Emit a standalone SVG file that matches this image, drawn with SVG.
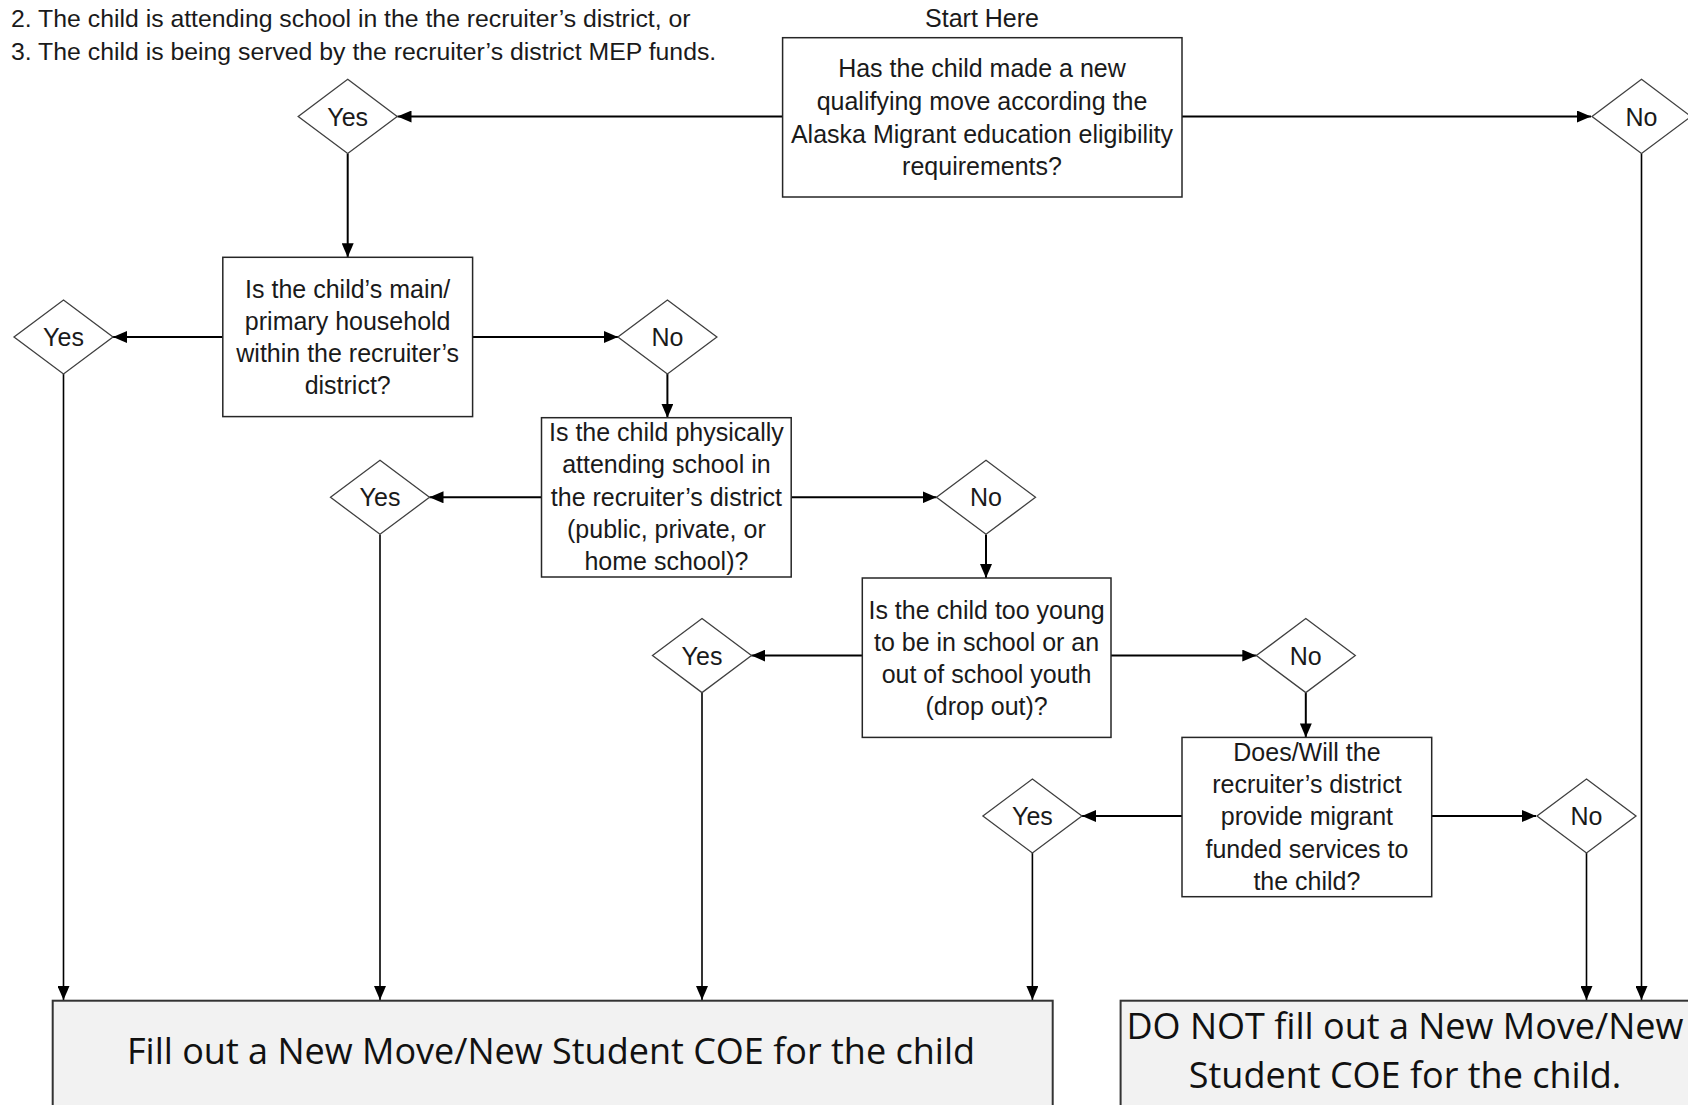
<svg xmlns="http://www.w3.org/2000/svg" width="1688" height="1105" viewBox="0 0 1688 1105">
<defs>
<marker id="arr" markerUnits="userSpaceOnUse" markerWidth="14" markerHeight="12" refX="14" refY="6" orient="auto">
<path d="M0,0 L14,6 L0,12 z" fill="#000"/>
</marker>
<style>
.t{font-family:"Liberation Sans",Arial,sans-serif;font-size:25px;fill:#1a1a1a;text-anchor:middle}
.tl{font-family:"Liberation Sans",Arial,sans-serif;font-size:24.8px;fill:#1a1a1a}
.box{fill:#fff;stroke:#262626;stroke-width:1.5}
.dia{fill:#fff;stroke:#404040;stroke-width:1.3}
.end{fill:#f2f2f2;stroke:#333;stroke-width:2}
.big{font-family:"Open Sans","DejaVu Sans",sans-serif;font-size:36px;fill:#111;text-anchor:middle}
.c{stroke:#000;stroke-width:2;fill:none;marker-end:url(#arr)}
.cv{stroke:#000;stroke-width:1.6;fill:none;marker-end:url(#arr)}
</style>
</defs>
<rect width="1688" height="1105" fill="#fff"/>

<g id="notes">
<text class="tl" x="11" y="27">2. The child is attending school in the the recruiter’s district, or</text>
<text class="tl" x="11" y="60">3. The child is being served by the recruiter’s district MEP funds.</text>
<text class="t" x="982" y="27">Start Here</text>
</g>

<g id="connectors">
<line class="c" x1="783" y1="116.5" x2="397.5" y2="116.5"/>
<line class="c" x1="1182" y1="116.5" x2="1591" y2="116.5"/>
<line class="c" x1="347.7" y1="153.5" x2="347.7" y2="257.3"/>
<line class="c" x1="222.8" y1="337" x2="113" y2="337"/>
<line class="c" x1="472.6" y1="337" x2="618" y2="337"/>
<line class="c" x1="667.4" y1="374" x2="667.4" y2="417.7"/>
<line class="c" x1="541.5" y1="497.3" x2="429.5" y2="497.3"/>
<line class="c" x1="791.2" y1="497.3" x2="936.5" y2="497.3"/>
<line class="c" x1="986" y1="534.5" x2="986" y2="578"/>
<line class="c" x1="862.3" y1="655.6" x2="751.4" y2="655.6"/>
<line class="c" x1="1111" y1="655.6" x2="1256.3" y2="655.6"/>
<line class="c" x1="1305.8" y1="692.6" x2="1305.8" y2="737.4"/>
<line class="c" x1="1182" y1="816" x2="1082" y2="816"/>
<line class="c" x1="1431.7" y1="816" x2="1536" y2="816"/>
<line class="cv" x1="63.5" y1="374" x2="63.5" y2="1000"/>
<line class="cv" x1="380" y1="534.5" x2="380" y2="1000"/>
<line class="cv" x1="702" y1="692.6" x2="702" y2="1000"/>
<line class="cv" x1="1032.4" y1="853" x2="1032.4" y2="1000"/>
<line class="cv" x1="1586.5" y1="853" x2="1586.5" y2="1000"/>
<line class="cv" x1="1641.5" y1="153.5" x2="1641.5" y2="1000"/>
</g>

<g id="q1">
<rect class="box" x="782.6" y="37.7" width="399.4" height="159.3"/>
<text class="t" x="982" y="77">Has the child made a new</text>
<text class="t" x="982" y="110">qualifying move according the</text>
<text class="t" x="982" y="142.5">Alaska Migrant education eligibility</text>
<text class="t" x="982" y="175">requirements?</text>
</g>
<g id="yes1">
<polygon class="dia" points="347.7,79.3 397.2,116.5 347.7,153.5 298.2,116.5"/>
<text class="t" x="347.7" y="125.5">Yes</text>
</g>
<g id="no1">
<polygon class="dia" points="1641.5,79.3 1691,116.5 1641.5,153.5 1592,116.5"/>
<text class="t" x="1641.5" y="125.5">No</text>
</g>

<g id="q2">
<rect class="box" x="222.8" y="257.3" width="249.8" height="159.3"/>
<text class="t" x="347.7" y="297.5">Is the child’s main/</text>
<text class="t" x="347.7" y="329.5">primary household</text>
<text class="t" x="347.7" y="361.5">within the recruiter’s</text>
<text class="t" x="347.7" y="393.5">district?</text>
</g>
<g id="yes2">
<polygon class="dia" points="63.5,300 113,337 63.5,374 14,337"/>
<text class="t" x="63.5" y="346">Yes</text>
</g>
<g id="no2">
<polygon class="dia" points="667.4,300 716.9,337 667.4,374 617.9,337"/>
<text class="t" x="667.4" y="346">No</text>
</g>

<g id="q3">
<rect class="box" x="541.5" y="417.7" width="249.7" height="159.3"/>
<text class="t" x="666.4" y="440.5">Is the child physically</text>
<text class="t" x="666.4" y="473">attending school in</text>
<text class="t" x="666.4" y="505.5">the recruiter’s district</text>
<text class="t" x="666.4" y="538">(public, private, or</text>
<text class="t" x="666.4" y="570">home school)?</text>
</g>
<g id="yes3">
<polygon class="dia" points="380,460.3 429.5,497.3 380,534.3 330.5,497.3"/>
<text class="t" x="380" y="506.3">Yes</text>
</g>
<g id="no3">
<polygon class="dia" points="986,460.3 1035.5,497.3 986,534.3 936.5,497.3"/>
<text class="t" x="986" y="506.3">No</text>
</g>

<g id="q4">
<rect class="box" x="862.3" y="578" width="248.7" height="159.4"/>
<text class="t" x="986.6" y="618.5">Is the child too young</text>
<text class="t" x="986.6" y="650.5">to be in school or an</text>
<text class="t" x="986.6" y="682.5">out of school youth</text>
<text class="t" x="986.6" y="714.5">(drop out)?</text>
</g>
<g id="yes4">
<polygon class="dia" points="702,618.6 751.5,655.6 702,692.6 652.5,655.6"/>
<text class="t" x="702" y="664.6">Yes</text>
</g>
<g id="no4">
<polygon class="dia" points="1305.8,618.6 1355.3,655.6 1305.8,692.6 1256.3,655.6"/>
<text class="t" x="1305.8" y="664.6">No</text>
</g>

<g id="q5">
<rect class="box" x="1182" y="737.4" width="249.7" height="159.3"/>
<text class="t" x="1306.9" y="760.5">Does/Will the</text>
<text class="t" x="1306.9" y="792.5">recruiter’s district</text>
<text class="t" x="1306.9" y="825">provide migrant</text>
<text class="t" x="1306.9" y="857.5">funded services to</text>
<text class="t" x="1306.9" y="889.5">the child?</text>
</g>
<g id="yes5">
<polygon class="dia" points="1032.4,779 1081.9,816 1032.4,853 982.9,816"/>
<text class="t" x="1032.4" y="825">Yes</text>
</g>
<g id="no5">
<polygon class="dia" points="1586.5,779 1636,816 1586.5,853 1537,816"/>
<text class="t" x="1586.5" y="825">No</text>
</g>

<g id="fill">
<rect class="end" x="52.7" y="1000.7" width="1000" height="120"/>
<text class="big" x="551" y="1064">Fill out a New Move/New Student COE for the child</text>
</g>
<g id="donot">
<rect class="end" x="1120.6" y="1000.7" width="580" height="120"/>
<text class="big" x="1405" y="1039">DO NOT fill out a New Move/New</text>
<text class="big" x="1405" y="1088">Student COE for the child.</text>
</g>
</svg>
